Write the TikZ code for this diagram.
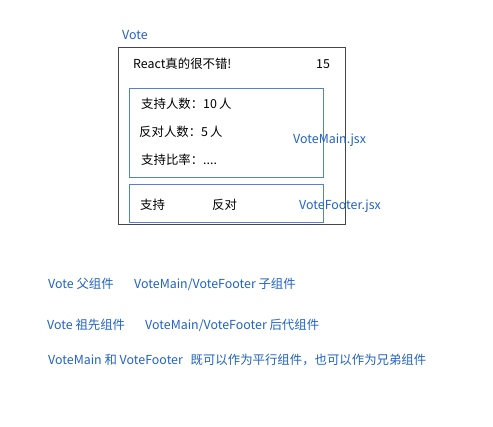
\documentclass[tikz,border=0pt]{standalone}
\usepackage{fontspec}
\setmainfont{Noto Sans CJK SC}
\usepackage{tikz}
\definecolor{voteblue}{RGB}{32,98,196}
\definecolor{boxblue}{RGB}{84,128,214}
\definecolor{boxgray}{RGB}{70,70,70}

\begin{document}
\begin{tikzpicture}[x=1pt,y=-1pt,every node/.style={font=\fontsize{12.4}{14}\selectfont,inner sep=0pt,anchor=west},
    lbl/.style={text=voteblue}]
                \useasboundingbox (0,0) rectangle (493,427);
                % components
                \draw[boxgray,line width=0.8pt] (118,47) rectangle (345,224);
                \draw[boxblue,line width=0.8pt] (129,88) rectangle (323,177);
                \draw[boxblue,line width=0.8pt] (129,184) rectangle (323,222);
                \node[lbl] (vote) at (122,35) {Vote};

                \node (title) at (133,64) {React真的很不错!};
                \node (num) at (316,64) {15};

                \node (sup) at (141,104) {支持人数：10\,人};
                \node (opp) at (139,132) {反对人数：5\,人};
                \node (rate) at (141,160) {支持比率：....};
                \node[lbl] (main) at (293,140) {VoteMain.jsx};

                \node (btnsup) at (140,205) {支持};
                \node (btnopp) at (212,205) {反对};
                \node[lbl] (footer) at (299,206) {VoteFooter.jsx};

                % notes
                \node[lbl] (n1a) at (48,284) {Vote 父组件};
                \node[lbl] (n1b) at (134,284) {VoteMain/VoteFooter 子组件};
                \node[lbl] (n2a) at (47,325) {Vote 祖先组件};
                \node[lbl] (n2b) at (145,325) {VoteMain/VoteFooter 后代组件};
                \node[lbl] (n3) at (48,360) {VoteMain 和 VoteFooter\hspace{5pt} 既可以作为平行组件，也可以作为兄弟组件};
            \end{tikzpicture}
\end{document}
